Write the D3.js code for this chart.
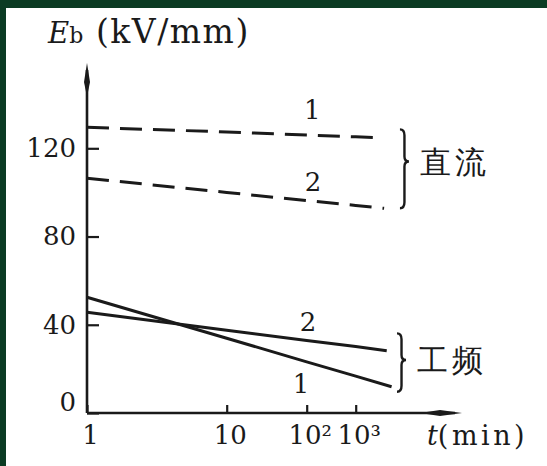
<!DOCTYPE html>
<html>
<head>
<meta charset="utf-8">
<script src="https://cdn.jsdelivr.net/npm/d3@7"></script>
<style>
  body { margin: 0; background: #fff; }
  svg text { font-family: "DejaVu Serif", serif; fill: #1a1a1a; }
</style>
</head>
<body>
<script>
// breakdown field Eb (kV/mm) against time t (min)
var tDC1 = [1, 10, 100, 1000, 3200];
var ebDC1 = [129.5, 127.4, 126.0, 125.2, 124.8];
var tDC2 = [1, 10, 100, 1000, 3800];
var ebDC2 = [106.4, 100.0, 96.3, 94.1, 92.8];
var tAC1 = [1, 10, 100, 1000, 5400];
var ebAC1 = [52.5, 33.9, 23.2, 16.7, 11.9];
var tAC2 = [1, 10, 100, 1000, 4300];
var ebAC2 = [45.7, 37.5, 32.9, 30.1, 28.2];

var yTicks = [0, 40, 80, 120];
var xTicks = [1, 10, 100, 1000];
var xTickLabels = ["1", "10", "10²", "10³"];

// curve numbers
var labelText = ["1", "2", "2", "1"];
var labelT = [130, 135, 107, 85];
var labelEb = [137.4, 104.7, 41.3, 13.1];

// the two groups, marked with braces
var groupNames = ["直流", "工频"];
var braceT = [8000, 6970];
var braceTop = [128.6, 36.1];
var braceMid = [114.0, 24.0];
var braceBottom = [92.8, 9.6];

var width = 547, height = 466;
var ink = "#1a1a1a";

var svg = d3.select("body").append("svg")
  .attr("width", width)
  .attr("height", height);

svg.append("rect").attr("width", width).attr("height", height).attr("fill", "#fff");
// dark frame of the scan, top and left
svg.append("rect").attr("x", 0).attr("y", 0).attr("width", width).attr("height", 8).attr("fill", "#0b3b23");
svg.append("rect").attr("x", 0).attr("y", 0).attr("width", 6).attr("height", height).attr("fill", "#0b3b23");

// the time axis in the drawing is not a plain log axis, so map log10(t) piecewise
var x = d3.scaleLinear()
  .domain([0, 1, 2, 3])
  .range([87, 226.7, 306.7, 355.7]);
var y = d3.scaleLinear()
  .domain([0, 120])
  .range([413, 148.3]);

function xt(t) { return x(Math.log10(t)); }

// y axis
var yAxis = d3.axisLeft(y)
  .tickValues(yTicks)
  .tickSizeInner(-12)
  .tickSizeOuter(0)
  .tickPadding(11);

var gy = svg.append("g")
  .attr("transform", "translate(" + x(0) + ",0)")
  .call(yAxis);
gy.attr("font-size", 26).attr("font-family", "DejaVu Serif, serif").style("color", ink);
gy.select(".domain").remove();
gy.selectAll(".tick line").attr("stroke-width", 2.2);
gy.selectAll(".tick").filter(function (d) { return d === 0; })
  .select("text").attr("y", -11);

// x axis
var xAxis = d3.axisBottom(x)
  .tickValues(xTicks.map(Math.log10))
  .tickFormat(function (d, i) { return xTickLabels[i]; })
  .tickSizeInner(-8)
  .tickSizeOuter(0)
  .tickPadding(13);

var gx = svg.append("g")
  .attr("transform", "translate(0," + y(0) + ")")
  .call(xAxis);
gx.attr("font-size", 26).attr("font-family", "DejaVu Serif, serif").style("color", ink);
gx.select(".domain").remove();
gx.selectAll(".tick line").attr("stroke-width", 2.2);
gx.selectAll(".tick text").attr("dx", 3);

// axis lines with the long thin arrow heads
svg.append("line")
  .attr("x1", x(0)).attr("y1", y(0))
  .attr("x2", x(0)).attr("y2", 70)
  .attr("stroke", ink).attr("stroke-width", 2.6);
svg.append("path")
  .attr("d", "M" + x(0) + ",63 L" + (x(0) - 3) + ",82 L" + x(0) + ",97 L" + (x(0) + 3) + ",82 Z")
  .attr("fill", ink);

svg.append("line")
  .attr("x1", x(0)).attr("y1", y(0))
  .attr("x2", 455).attr("y2", y(0))
  .attr("stroke", ink).attr("stroke-width", 2.6);
svg.append("path")
  .attr("d", "M420," + y(0) + " L440," + (y(0) - 3) + " L462," + y(0) + " L440," + (y(0) + 3) + " Z")
  .attr("fill", ink);

// curves
var line = d3.line()
  .x(function (d) { return xt(d[0]); })
  .y(function (d) { return y(d[1]); });

var series = [
  { t: tDC1, eb: ebDC1, dash: "22,11" },
  { t: tDC2, eb: ebDC2, dash: "22,11" },
  { t: tAC1, eb: ebAC1, dash: null },
  { t: tAC2, eb: ebAC2, dash: null }
];

svg.selectAll(".curve")
  .data(series)
  .enter()
  .append("path")
  .attr("class", "curve")
  .attr("d", function (s) { return line(d3.zip(s.t, s.eb)); })
  .attr("fill", "none")
  .attr("stroke", ink)
  .attr("stroke-width", 3)
  .attr("stroke-dasharray", function (s) { return s.dash; });

svg.selectAll(".curve-label")
  .data(labelText)
  .enter()
  .append("text")
  .attr("class", "curve-label")
  .attr("x", function (d, i) { return xt(labelT[i]); })
  .attr("y", function (d, i) { return y(labelEb[i]); })
  .attr("dy", "0.36em")
  .attr("text-anchor", "middle")
  .attr("font-size", 26)
  .text(function (d) { return d; });

// braces and group names
function brace(x0, yt, ym, yb) {
  var w = 9, h = w / 2;
  return "M" + x0 + "," + yt +
    " Q" + (x0 + h) + "," + yt + " " + (x0 + h) + "," + (yt + 6) +
    " L" + (x0 + h) + "," + (ym - 5) +
    " Q" + (x0 + h) + "," + ym + " " + (x0 + w) + "," + ym +
    " Q" + (x0 + h) + "," + ym + " " + (x0 + h) + "," + (ym + 5) +
    " L" + (x0 + h) + "," + (yb - 6) +
    " Q" + (x0 + h) + "," + yb + " " + x0 + "," + yb;
}

groupNames.forEach(function (name, i) {
  var bx = xt(braceT[i]);
  svg.append("path")
    .attr("d", brace(bx, y(braceTop[i]), y(braceMid[i]), y(braceBottom[i])))
    .attr("fill", "none")
    .attr("stroke", ink)
    .attr("stroke-width", 2.4);
  svg.append("text")
    .attr("x", bx + 20)
    .attr("y", y(braceMid[i]))
    .attr("dy", "0.36em")
    .attr("font-family", "Noto Sans CJK SC, sans-serif")
    .attr("font-size", 31)
    .attr("letter-spacing", 4)
    .attr("fill", "#2a2a2a")
    .text(name);
});

// axis titles
var title = svg.append("text").attr("x", 48).attr("y", 43);
title.append("tspan").attr("font-style", "italic").attr("font-size", 29).text("E");
title.append("tspan").attr("font-size", 22).text("b");
title.append("tspan").attr("x", 96).attr("font-size", 33).attr("letter-spacing", 1.5).text("(kV/mm)");

var xTitle = svg.append("text").attr("x", 427).attr("y", 445);
xTitle.append("tspan").attr("font-style", "italic").attr("font-size", 27).text("t");
xTitle.append("tspan").attr("font-size", 27).attr("letter-spacing", 3.5).text("(min)");
</script>
</body>
</html>
